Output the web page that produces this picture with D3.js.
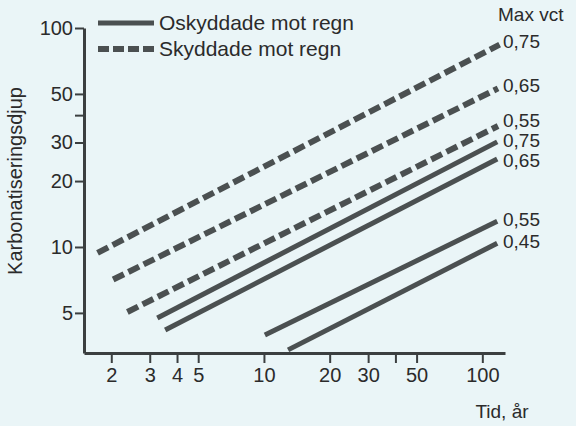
<!DOCTYPE html>
<html>
<head>
<meta charset="utf-8">
<script src="https://cdn.jsdelivr.net/npm/d3@7"></script>
<style>
  html, body { margin: 0; padding: 0; background: #eaf5f7; }
  svg { display: block; font-family: "Liberation Sans", Arial, sans-serif; }
  .axis path, .axis line { stroke: #3b3f40; }
  .axis text { fill: #2b2b2b; font-size: 20px; font-family: "Liberation Sans", Arial, sans-serif; }
</style>
</head>
<body>
<div id="chart"></div>
<script>
// Max vct labels and line endpoints [tid (år), karbonatiseringsdjup]
const shelteredVct = ["0,75", "0,65", "0,55"];
const shelteredLines = [
  [[1.73, 9.4], [120, 84]],
  [[2.04, 7.1], [118, 53]],
  [[2.37, 5.05], [118, 35.7]]
];
const exposedVct = ["0,75", "0,65", "0,55", "0,45"];
const exposedLines = [
  [[3.25, 4.74], [117, 30.2]],
  [[3.53, 4.18], [117, 25.2]],
  [[10.1, 3.96], [117, 13.1]],
  [[12.9, 3.39], [117, 10.4]]
];
const xTicks = [2, 3, 4, 5, 10, 20, 30, 40, 50, 100];
const xTickLabels = ["2", "3", "4", "5", "10", "20", "30", "", "50", "100"];
const yTicks = [5, 10, 20, 30, 40, 50, 100];
const yTickLabels = ["5", "10", "20", "30", "", "50", "100"];
const legendLabels = ["Oskyddade mot regn", "Skyddade mot regn"];

const width = 576, height = 426;
const lineColor = "#4b5051";
const dash = "12,5";

const svg = d3.select("#chart").append("svg")
  .attr("width", width)
  .attr("height", height);

const x = d3.scaleLog().domain([1.5, 127]).range([84, 505]);
const y = d3.scaleLog().domain([3.28, 100]).range([353, 28]);

// axes
const xAxis = svg.append("g")
  .attr("class", "axis")
  .attr("transform", `translate(0,${y.range()[0]})`)
  .call(d3.axisBottom(x)
    .tickValues(xTicks)
    .tickFormat((d, i) => xTickLabels[i])
    .tickSize(10)
    .tickSizeOuter(0)
    .tickPadding(5));
xAxis.select(".domain").attr("stroke-width", 3);
xAxis.selectAll(".tick line").attr("stroke-width", 2);

const yAxis = svg.append("g")
  .attr("class", "axis")
  .attr("transform", `translate(${x.range()[0]},0)`)
  .call(d3.axisLeft(y)
    .tickValues(yTicks)
    .tickFormat((d, i) => yTickLabels[i])
    .tickSize(9)
    .tickSizeOuter(0)
    .tickPadding(2));
yAxis.select(".domain").attr("stroke-width", 3);
yAxis.selectAll(".tick line").attr("stroke-width", 2);

// axis titles
svg.append("text")
  .attr("x", 502)
  .attr("y", 418)
  .attr("text-anchor", "middle")
  .attr("fill", "#2b2b2b")
  .style("font-size", "19px")
  .text("Tid, år");

svg.append("text")
  .attr("transform", `translate(22,181) rotate(-90)`)
  .attr("text-anchor", "middle")
  .attr("fill", "#2b2b2b")
  .style("font-size", "20px")
  .text("Karbonatiseringsdjup");

const line = d3.line().x(d => x(d[0])).y(d => y(d[1]));

svg.append("g").selectAll("path")
  .data(shelteredLines)
  .join("path")
  .attr("d", line)
  .attr("fill", "none")
  .attr("stroke", lineColor)
  .attr("stroke-width", 6)
  .attr("stroke-dasharray", dash);

svg.append("g").selectAll("path")
  .data(exposedLines)
  .join("path")
  .attr("d", line)
  .attr("fill", "none")
  .attr("stroke", lineColor)
  .attr("stroke-width", 5);

// end labels, nudged so they do not overlap
const minGap = 20;
const ends = shelteredLines.map((l, i) => ({ text: shelteredVct[i], x: x(l[1][0]), y: y(l[1][1]) - 3 }))
  .concat(exposedLines.map((l, i) => ({ text: exposedVct[i], x: x(l[1][0]), y: y(l[1][1]) - 2 })))
  .sort((a, b) => a.y - b.y);
for (let k = 0; k < 20; k++) {
  for (let i = 1; i < ends.length; i++) {
    const gap = ends[i].y - ends[i - 1].y;
    if (gap < minGap) {
      ends[i - 1].y -= (minGap - gap) / 2;
      ends[i].y += (minGap - gap) / 2;
    }
  }
}

svg.append("g").selectAll("text")
  .data(ends)
  .join("text")
  .attr("x", 503)
  .attr("y", d => d.y)
  .attr("dy", "0.35em")
  .attr("fill", "#2b2b2b")
  .style("font-size", "19px")
  .text(d => d.text);

svg.append("text")
  .attr("x", 498)
  .attr("y", 21)
  .attr("fill", "#2b2b2b")
  .style("font-size", "19px")
  .text("Max vct");

// legend
const legend = svg.append("g");
legendLabels.forEach((lab, i) => {
  const ly = 23 + i * 26;
  legend.append("line")
    .attr("x1", 98).attr("x2", 154)
    .attr("y1", ly).attr("y2", ly)
    .attr("stroke", lineColor)
    .attr("stroke-width", i === 0 ? 5 : 6)
    .attr("stroke-dasharray", i === 0 ? null : "11,4");
  legend.append("text")
    .attr("x", 159)
    .attr("y", ly)
    .attr("dy", "0.35em")
    .attr("fill", "#2b2b2b")
    .style("font-size", "21px")
    .text(lab);
});
</script>
</body>
</html>
